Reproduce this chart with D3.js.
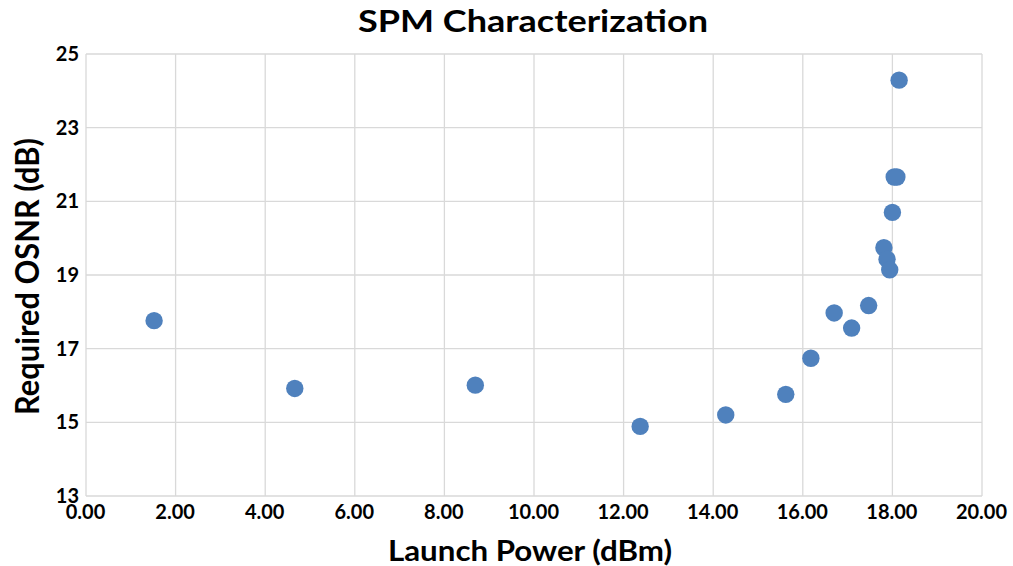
<!DOCTYPE html>
<html>
<head>
<meta charset="utf-8">
<script src="https://cdn.jsdelivr.net/npm/d3@7"></script>
<style>
  html, body { margin: 0; padding: 0; background: #ffffff; }
  svg text { font-family: Lato, "Open Sans", sans-serif; font-weight: bold; fill: #000; }
</style>
</head>
<body>
<svg id="chart" width="1013" height="566"></svg>
<script>
// Launch power (dBm) vs required OSNR (dB)
const launchPower = [1.52, 4.66, 8.69, 12.37, 14.28, 15.62, 16.18, 16.70, 17.09, 17.47, 17.81, 17.88, 17.94, 18.00, 18.04, 18.10, 18.15];
const requiredOSNR = [17.76, 15.92, 16.01, 14.89, 15.20, 15.76, 16.74, 17.97, 17.56, 18.17, 19.74, 19.43, 19.14, 20.70, 21.66, 21.66, 24.29];
const xTicks = [0, 2, 4, 6, 8, 10, 12, 14, 16, 18, 20];
const yTicks = [13, 15, 17, 19, 21, 23, 25];

const svg = d3.select("#chart");
const W = 1013, H = 566;
const margin = { left: 86, right: 31, top: 54, bottom: 70 };

const x = d3.scaleLinear().domain([0, 20]).range([margin.left, W - margin.right]);
const y = d3.scaleLinear().domain([13, 25]).range([H - margin.bottom, margin.top]);

const gridColor = "#d9d9d9";

// gridlines
svg.append("g")
  .selectAll("line")
  .data(xTicks)
  .join("line")
  .attr("x1", d => x(d)).attr("x2", d => x(d))
  .attr("y1", y(13)).attr("y2", y(25))
  .attr("stroke", gridColor).attr("stroke-width", 1.3);

svg.append("g")
  .selectAll("line")
  .data(yTicks)
  .join("line")
  .attr("x1", x(0)).attr("x2", x(20))
  .attr("y1", d => y(d)).attr("y2", d => y(d))
  .attr("stroke", gridColor).attr("stroke-width", 1.3);

// axes
const xAxis = d3.axisBottom(x).tickValues(xTicks).tickFormat(d3.format(".2f")).tickSize(0).tickPadding(9);
const gx = svg.append("g").attr("transform", `translate(-1,${y(13)})`).call(xAxis);
gx.select(".domain").remove();
gx.selectAll("text").style("font-size", "20px").attr("fill", "#000");

const yAxis = d3.axisLeft(y).tickValues(yTicks).tickFormat(d3.format("d")).tickSize(0).tickPadding(7);
const gy = svg.append("g").attr("transform", `translate(${x(0)},0)`).call(yAxis);
gy.select(".domain").remove();
gy.selectAll("text").style("font-size", "20px").attr("fill", "#000");

// points
svg.append("g")
  .selectAll("circle")
  .data(launchPower.map((p, i) => [p, requiredOSNR[i]]))
  .join("circle")
  .attr("cx", d => x(d[0]))
  .attr("cy", d => y(d[1]))
  .attr("r", 8.7)
  .attr("fill", "#4f81bd");

// titles
svg.append("text")
  .attr("x", 533).attr("y", 32)
  .attr("text-anchor", "middle")
  .attr("textLength", 350).attr("lengthAdjust", "spacingAndGlyphs")
  .style("font-size", "31px")
  .text("SPM Characterization");

svg.append("text")
  .attr("x", 530).attr("y", 561)
  .attr("text-anchor", "middle")
  .attr("textLength", 284).attr("lengthAdjust", "spacingAndGlyphs")
  .style("font-size", "28px")
  .text("Launch Power (dBm)");

svg.append("text")
  .attr("transform", `translate(38.5,276.5) rotate(-90)`)
  .attr("text-anchor", "middle")
  .attr("textLength", 277).attr("lengthAdjust", "spacingAndGlyphs")
  .style("font-size", "32px")
  .text("Required OSNR (dB)");
</script>
</body>
</html>
